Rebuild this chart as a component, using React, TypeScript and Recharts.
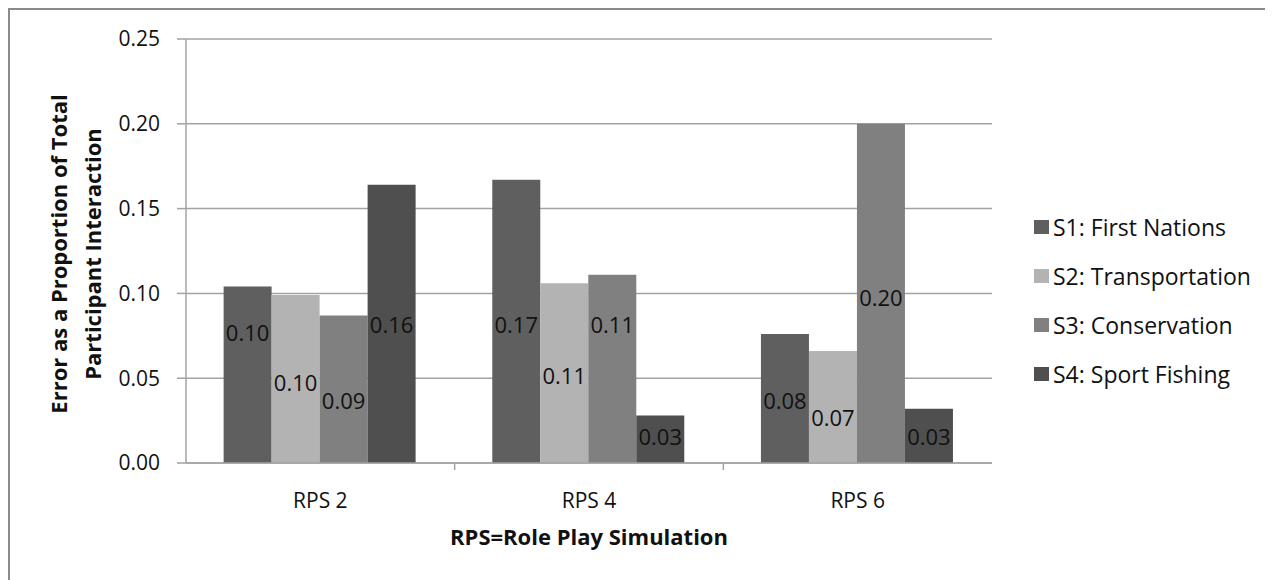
import { BarChart, Bar, XAxis, YAxis, CartesianGrid, Legend, LabelList } from 'recharts';

const categories = ['RPS 2', 'RPS 4', 'RPS 6'];

const s1FirstNations = [0.104, 0.167, 0.076];
const s2Transportation = [0.099, 0.106, 0.066];
const s3Conservation = [0.087, 0.111, 0.2];
const s4SportFishing = [0.164, 0.028, 0.032];

const yTicks = [0, 0.05, 0.1, 0.15, 0.2, 0.25];

// where each data label sits, in data units (labels were hand-placed in the original)
const labelAtS1 = [0.077, 0.082, 0.037];
const labelAtS2 = [0.048, 0.052, 0.027];
const labelAtS3 = [0.037, 0.082, 0.098];
const labelAtS4 = [0.082, 0.016, 0.016];

const FONT = '"Open Sans", "Noto Sans", sans-serif';
const GRID = '#a3a3a3';

const series = [
  { key: 's1', name: 'S1: First Nations', values: s1FirstNations, labelAt: labelAtS1, color: '#5f5f5f' },
  { key: 's2', name: 'S2: Transportation', values: s2Transportation, labelAt: labelAtS2, color: '#b3b3b3' },
  { key: 's3', name: 'S3: Conservation', values: s3Conservation, labelAt: labelAtS3, color: '#808080' },
  { key: 's4', name: 'S4: Sport Fishing', values: s4SportFishing, labelAt: labelAtS4, color: '#4f4f4f' },
];

const data = categories.map((cat, i) => {
  const row: Record<string, string | number> = { cat };
  series.forEach((s) => {
    row[s.key] = s.values[i];
  });
  return row;
});

const makeLabel = (labelAt: number[]) => (props: any) => {
  const { x, y, width, height, value, index } = props;
  if (value == null || !height) return null;
  const pxPerUnit = height / value;
  const base = y + height;
  const cy = base - labelAt[index] * pxPerUnit;
  return (
    <text
      x={x + width / 2}
      y={cy}
      textAnchor="middle"
      dominantBaseline="central"
      fontSize={22}
      fontFamily={FONT}
      fill="#111"
    >
      {Number(value).toFixed(2)}
    </text>
  );
};

const XTick = (props: any) => {
  const { x, y, payload, index } = props;
  const half = payload.offset ?? 0;
  return (
    <g>
      {index > 0 && <line x1={x - half} x2={x - half} y1={y} y2={y + 7} stroke={GRID} strokeWidth={1.5} />}
      <text x={x} y={y + 37} textAnchor="middle" dominantBaseline="central" fontSize={21} fontFamily={FONT} fill="#111">
        {payload.value}
      </text>
    </g>
  );
};

const renderLegend = (props: any) => {
  const { payload } = props;
  return (
    <div style={{ fontFamily: FONT, fontSize: 23, color: '#111' }}>
      {payload.map((p: any) => (
        <div key={p.value} style={{ height: 49, display: 'flex', alignItems: 'center', whiteSpace: 'nowrap' }}>
          <span style={{ width: 15, height: 14, background: p.color, display: 'inline-block', marginRight: 4 }} />
          <span>{p.value}</span>
        </div>
      ))}
    </div>
  );
};

export default function App() {
  return (
    <div
      style={{
        width: 1265,
        height: 572,
        borderTop: '2px solid #8a8a8a',
        borderLeft: '2px solid #8a8a8a',
        background: '#fff',
      }}
    >
      <BarChart
        width={1263}
        height={570}
        data={data}
        margin={{ top: 29, right: 281, bottom: 17, left: 116 }}
        barCategoryGap="14%"
        barGap={0}
      >
        <CartesianGrid vertical={false} stroke={GRID} strokeWidth={1.5} />
        <XAxis
          dataKey="cat"
          height={100}
          axisLine={{ stroke: GRID, strokeWidth: 1.5 }}
          tickLine={false}
          tickSize={0}
          tickMargin={0}
          tick={<XTick />}
          interval={0}
          label={{
            content: (p: any) => {
              const vb = p.viewBox;
              return (
                <text
                  x={vb.x + vb.width / 2}
                  y={vb.y + 73}
                  textAnchor="middle"
                  dominantBaseline="central"
                  fontSize={22}
                  fontWeight="bold"
                  fontFamily={FONT}
                  fill="#111"
                >
                  RPS=Role Play Simulation
                </text>
              );
            },
          }}
        />
        <YAxis
          width={60}
          domain={[0, 0.25]}
          ticks={yTicks}
          interval={0}
          tickFormatter={(v: number) => v.toFixed(2)}
          axisLine={{ stroke: GRID, strokeWidth: 1.5 }}
          tickLine={{ stroke: GRID, strokeWidth: 1.5 }}
          tickSize={9}
          tickMargin={17}
          tick={{ fontSize: 21, fontFamily: FONT, fill: '#111' }}
          label={{
            content: (p: any) => {
              const vb = p.viewBox;
              const cy = vb.y + vb.height / 2 + 3;
              return (
                <g fontSize={22} fontWeight="bold" fontFamily={FONT} fill="#111" textAnchor="middle">
                  <text x={48} y={cy} dominantBaseline="central" transform={`rotate(-90, 48, ${cy})`}>
                    Error as a Proportion of Total
                  </text>
                  <text x={82} y={cy} dominantBaseline="central" transform={`rotate(-90, 82, ${cy})`}>
                    Participant Interaction
                  </text>
                </g>
              );
            },
          }}
        />
        <Legend
          layout="vertical"
          align="center"
          verticalAlign="middle"
          content={renderLegend}
          wrapperStyle={{ left: 1024, top: 192, width: 239 }}
        />
        {series.map((s) => (
          <Bar key={s.key} dataKey={s.key} name={s.name} fill={s.color} isAnimationActive={false}>
            <LabelList dataKey={s.key} content={makeLabel(s.labelAt)} />
          </Bar>
        ))}
      </BarChart>
    </div>
  );
}
